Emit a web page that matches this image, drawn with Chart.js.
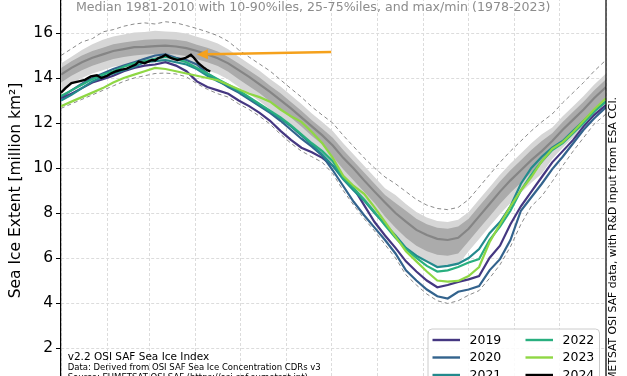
<!DOCTYPE html>
<html>
<head>
<meta charset="utf-8">
<script src="https://cdn.jsdelivr.net/npm/chart.js@4.4.1/dist/chart.umd.min.js"></script>
<style>
	html, body { margin: 0; padding: 0; background: #fff; overflow: hidden; }
	#wrap { position: relative; width: 627px; height: 376px; overflow: hidden; }
	#chart { position: absolute; left: 0; top: -32px; }
</style>
</head>
<body>
<div id="wrap"><canvas id="chart" width="627" height="440"></canvas></div>
<script>
const FONT = "'DejaVu Sans', sans-serif";

// day of year of every sample (weekly)
const days = [0,7,14,21,28,35,42,49,56,63,70,77,84,91,98,105,112,119,126,133,140,147,154,161,168,175,182,189,196,203,210,217,224,231,238,245,252,259,266,273,280,287,294,301,308,315,322,329,336,343,350,357,365];

// climatology 1981-2010 (million km2)
const median = [14.15,14.45,14.7,14.9,15.05,15.2,15.28,15.37,15.38,15.42, 15.44,15.4,15.33,15.2,15.05,14.88,14.65,14.35,14.05,13.72, 13.38,13.02,12.65,12.25,11.85,11.45,11.0,10.45,9.98,9.45, 8.95,8.47,8.0,7.62,7.25,7.02,6.85,6.8,6.9,7.3, 7.85,8.4,8.95,9.45,9.9,10.35,10.75,11.2,11.7,12.15, 12.6,13.1,13.6];
const p75 = [14.45,14.75,15.0,15.2,15.35,15.5,15.58,15.65,15.7,15.72, 15.72,15.7,15.63,15.48,15.35,15.18,14.93,14.65,14.33,14.02, 13.66,13.32,12.93,12.55,12.12,11.75,11.35,10.8,10.3,9.8, 9.3,8.8,8.45,8.1,7.75,7.5,7.35,7.3,7.4,7.75, 8.3,8.85,9.4,9.9,10.35,10.8,11.2,11.55,12.05,12.5, 12.95,13.45,13.95];
const p25 = [13.8,14.1,14.35,14.55,14.7,14.85,14.93,15.0,15.05,15.07, 15.07,15.05,14.98,14.83,14.7,14.53,14.28,13.95,13.63,13.32, 12.96,12.62,12.23,11.85,11.42,11.05,10.5,9.95,9.45,8.95, 8.45,7.85,7.35,6.9,6.55,6.3,6.15,6.1,6.2,6.75, 7.3,7.85,8.4,8.9,9.35,9.8,10.2,10.75,11.25,11.7, 12.15,12.65,13.15];
const p90 = [14.65,14.95,15.25,15.5,15.7,15.85,15.93,16.02,16.05,16.1, 16.07,16.05,15.98,15.83,15.7,15.53,15.28,14.95,14.63,14.32, 13.96,13.62,13.23,12.85,12.42,12.05,11.65,11.1,10.6,10.1, 9.6,9.1,8.8,8.4,8.05,7.8,7.65,7.6,7.7,8.05, 8.6,9.15,9.7,10.2,10.65,11.1,11.5,11.8,12.3,12.75, 13.2,13.7,14.2];
const p10 = [13.45,13.75,14.0,14.2,14.35,14.5,14.58,14.65,14.7,14.72, 14.72,14.7,14.63,14.48,14.35,14.18,13.93,13.6,13.28,12.97, 12.61,12.27,11.88,11.5,11.07,10.7,10.1,9.55,9.05,8.55, 8.05,7.4,6.9,6.4,6.05,5.8,5.65,5.6,5.7,6.3, 6.85,7.4,7.95,8.45,8.9,9.35,9.75,10.4,10.9,11.35, 11.8,12.3,12.8];
// record max / min 1978-2023
const recMax = [15.0,15.3,15.6,15.75,16.05,16.15,16.3,16.4,16.45,16.4, 16.5,16.45,16.33,16.2,16.05,15.88,15.63,15.25,14.93,14.62, 14.31,13.92,13.53,13.15,12.72,12.35,12.0,11.45,10.95,10.45, 10.0,9.6,9.3,8.95,8.6,8.35,8.2,8.15,8.25,8.6, 9.15,9.7,10.25,10.75,11.2,11.65,12.05,12.4,12.9,13.35, 13.8,14.3,14.8];
const recMin = [12.65,12.85,13.05,13.25,13.45,13.65,13.85,14.0,14.1,14.2, 14.22,14.18,14.05,13.75,13.5,13.3,13.15,12.85,12.6,12.3, 11.95,11.5,11.1,10.75,10.5,10.25,9.75,9.0,8.35,7.75, 7.2,6.6,6.0,5.25,4.8,4.4,4.1,3.98,4.1,4.35, 4.55,5.1,5.7,6.5,7.5,8.3,8.75,9.4,10.1,10.75, 11.35,11.95,12.4];

// recent years
const years = ["2019", "2020", "2021", "2022", "2023", "2024"];
const yearColors = ["#453781", "#33638d", "#238a8d", "#29af7f", "#8fd744", "#000000"];
const ext2019 = [13.1,13.3,13.55,13.8,13.95,14.1,14.3,14.45,14.55,14.6, 14.7,14.55,14.3,13.85,13.6,13.45,13.3,13.0,12.75,12.45, 12.1,11.65,11.25,10.9,10.7,10.45,10.1,9.6,9.1,8.35, 7.6,7.0,6.45,5.85,5.4,5.0,4.7,4.8,4.94,5.05, 5.2,6.0,6.55,7.5,8.3,8.95,9.6,10.25,10.75,11.25, 11.85,12.35,12.8];
const ext2020 = [13.15,13.45,13.75,14.0,14.2,14.4,14.55,14.7,14.85,15.0, 15.05,14.9,14.8,14.6,14.2,13.9,13.6,13.35,13.05,12.75, 12.45,12.1,11.7,11.3,10.95,10.55,9.9,9.2,8.5,7.9, 7.35,6.8,6.2,5.45,5.0,4.6,4.3,4.2,4.5,4.6, 4.75,5.45,5.95,6.8,8.1,8.7,9.3,9.95,10.5,11.1, 11.7,12.2,12.7];
const ext2021 = [13.0,13.25,13.55,13.85,14.05,14.2,14.35,14.5,14.7,14.75, 14.8,14.7,14.6,14.4,14.1,13.85,13.65,13.4,13.1,12.8, 12.5,12.2,11.85,11.45,11.05,10.6,10.1,9.5,9.0,8.55, 8.0,7.5,7.0,6.45,6.1,5.85,5.6,5.65,5.75,6.0, 6.4,7.1,7.6,8.3,9.3,10.0,10.5,10.9,11.2,11.65, 12.1,12.55,12.95];
const ext2022 = [13.2,13.45,13.7,13.95,14.15,14.3,14.5,14.65,14.75,14.85, 14.95,14.85,14.7,14.45,14.2,13.95,13.7,13.45,13.15,12.85, 12.55,12.25,11.9,11.5,11.1,10.75,10.3,9.55,9.1,8.6, 8.05,7.45,6.9,6.4,6.0,5.65,5.4,5.45,5.6,5.8, 5.95,6.8,7.4,8.1,9.0,9.7,10.3,10.8,11.1,11.55, 12.0,12.5,12.95];
const ext2023 = [12.75,12.95,13.15,13.35,13.55,13.8,14.0,14.15,14.3,14.45, 14.4,14.3,14.2,14.1,14.0,13.9,13.7,13.5,13.3,13.15, 12.95,12.6,12.3,12.05,11.6,11.1,10.45,9.65,9.2,8.85, 8.25,7.6,6.95,6.3,5.85,5.4,5.0,4.95,4.98,5.2, 5.6,6.7,7.5,8.3,9.0,9.6,10.3,10.85,11.15,11.6, 12.1,12.6,13.1];
const days2024 = [0,3,7,12,16,20,24,27,31,34,37,40,44,47,50,52,56,58,61,63,65,68,70,72,74,76,78,81,83,85,87,89,92,94,96,98,100];
const ext2024 = [13.35,13.55,13.77,13.85,13.92,14.07,14.12,14.0,14.1,14.22,14.3,14.36,14.42,14.51,14.6,14.73,14.66,14.72,14.8,14.78,14.88,14.95,15.03,14.95,14.88,14.84,14.8,14.85,14.88,14.95,15.03,14.9,14.66,14.55,14.44,14.35,14.29];

// first day of each month, for the vertical grid
const monthStarts = [0,31,59,90,120,151,181,212,243,273,304,334,365];

// arrow pointing at the latest 2024 value: [day, extent]
const arrowFrom = [181, 15.16];
const arrowTo = [91, 15.05];

const subtitle = "Median 1981-2010 with 10-90%iles, 25-75%iles, and max/min (1978-2023)";
const credits = [
	"v2.2 OSI SAF Sea Ice Index",
	"Data: Derived from OSI SAF Sea Ice Concentration CDRs v3",
	"Source: EUMETSAT OSI SAF (https://osi-saf.eumetsat.int)"
];
const sideNote = "Source: EUMETSAT OSI SAF data, with R&D input from ESA CCI.";

function toPoints(xs, ys) {
	return ys.map(function(y, i) {
		return {x: xs[i], y: y};
	});
}

function line(label, xs, ys, color, width, order) {
	return {
		label: label,
		data: toPoints(xs, ys),
		borderColor: color,
		borderWidth: width,
		fill: false,
		order: order
	};
}

const yearSeries = [ext2019, ext2020, ext2021, ext2022, ext2023];
const datasets = [];
datasets.push(line("2024", days2024, ext2024, yearColors[5], 2.4, 0));
for(let i = 4; i >= 0; i--) {
	datasets.push(line(years[i], days, yearSeries[i], yearColors[i], 2.2, 5 - i));
}
datasets.push(line("median", days, median, "#858585", 2.2, 6));
const maxLine = line("max", days, recMax, "#8a8a8a", 1, 7);
maxLine.borderDash = [4, 3];
datasets.push(maxLine);
const minLine = line("min", days, recMin, "#8a8a8a", 1, 8);
minLine.borderDash = [4, 3];
datasets.push(minLine);
// 25-75 band
datasets.push({label: "p75", data: toPoints(days, p75), borderWidth: 0, borderColor: "rgba(0,0,0,0)", backgroundColor: "#ababab", fill: "+1", order: 9});
datasets.push({label: "p25", data: toPoints(days, p25), borderWidth: 0, borderColor: "rgba(0,0,0,0)", fill: false, order: 10});
// 10-90 band
datasets.push({label: "p90", data: toPoints(days, p90), borderWidth: 0, borderColor: "rgba(0,0,0,0)", backgroundColor: "#d6d6d6", fill: "+1", order: 11});
datasets.push({label: "p10", data: toPoints(days, p10), borderWidth: 0, borderColor: "rgba(0,0,0,0)", fill: false, order: 12});

function roundRect(ctx, x, y, w, h, r) {
	ctx.beginPath();
	ctx.moveTo(x + r, y);
	ctx.lineTo(x + w - r, y);
	ctx.arcTo(x + w, y, x + w, y + r, r);
	ctx.lineTo(x + w, y + h - r);
	ctx.arcTo(x + w, y + h, x + w - r, y + h, r);
	ctx.lineTo(x + r, y + h);
	ctx.arcTo(x, y + h, x, y + h - r, r);
	ctx.lineTo(x, y + r);
	ctx.arcTo(x, y, x + r, y, r);
	ctx.closePath();
}

const decorations = {
	id: "decorations",
	afterDatasetsDraw(chart) {
		const ctx = chart.ctx;
		const area = chart.chartArea;
		const xs = chart.scales.x;
		const ys = chart.scales.y;
		ctx.save();
		// right and top spines
		ctx.strokeStyle = "#000";
		ctx.lineWidth = 1.2;
		ctx.beginPath();
		ctx.moveTo(area.left, area.top);
		ctx.lineTo(area.right, area.top);
		ctx.lineTo(area.right, area.bottom);
		ctx.stroke();

		// orange arrow
		const x0 = xs.getPixelForValue(arrowFrom[0]), y0 = ys.getPixelForValue(arrowFrom[1]);
		const x1 = xs.getPixelForValue(arrowTo[0]), y1 = ys.getPixelForValue(arrowTo[1]);
		const ang = Math.atan2(y1 - y0, x1 - x0);
		const headLen = 11, headW = 5;
		const bx = x1 - headLen * Math.cos(ang), by = y1 - headLen * Math.sin(ang);
		ctx.strokeStyle = "#f5a11c";
		ctx.fillStyle = "#f5a11c";
		ctx.lineWidth = 2.5;
		ctx.beginPath();
		ctx.moveTo(x0, y0);
		ctx.lineTo(bx, by);
		ctx.stroke();
		ctx.beginPath();
		ctx.moveTo(x1, y1);
		ctx.lineTo(bx + headW * Math.sin(ang), by - headW * Math.cos(ang));
		ctx.lineTo(bx - headW * Math.sin(ang), by + headW * Math.cos(ang));
		ctx.closePath();
		ctx.fill();
		ctx.restore();
	},
	afterDraw(chart) {
		const ctx = chart.ctx;
		const area = chart.chartArea;
		ctx.save();

		// subtitle inside the plot
		ctx.fillStyle = "#8c8c8c";
		ctx.font = "12.6px " + FONT;
		ctx.textAlign = "left";
		ctx.textBaseline = "alphabetic";
		ctx.fillText(subtitle, 76, area.top + 23);

		// credits bottom left
		ctx.fillStyle = "#000";
		ctx.font = "10.5px " + FONT;
		ctx.fillText(credits[0], area.left + 6.7, area.bottom - 33);
		ctx.font = "8.5px " + FONT;
		ctx.fillText(credits[1], area.left + 6.7, area.bottom - 23.5);
		ctx.fillText(credits[2], area.left + 6.7, area.bottom - 13.5);

		// side note, rotated, right of the plot
		ctx.save();
		ctx.translate(area.right + 9.5, area.top + 109);
		ctx.rotate(-Math.PI / 2);
		ctx.font = "10.8px " + FONT;
		ctx.textAlign = "right";
		ctx.fillText(sideNote, 0, 0);
		ctx.restore();

		// legend, two columns
		const boxX = area.right - 178, boxY = area.bottom - 64;
		roundRect(ctx, boxX, boxY, 171.5, 64, 4);
		ctx.fillStyle = "rgba(255,255,255,0.85)";
		ctx.fill();
		ctx.strokeStyle = "#cccccc";
		ctx.lineWidth = 1;
		ctx.stroke();
		ctx.font = "12.5px " + FONT;
		ctx.textBaseline = "middle";
		ctx.textAlign = "left";
		for(let i = 0; i < years.length; i++) {
			const col = Math.floor(i / 3);
			const row = i % 3;
			const lx = boxX + 4.5 + col * 93;
			const ly = boxY + 11 + row * 17.5;
			ctx.strokeStyle = yearColors[i];
			ctx.lineWidth = 2.4;
			ctx.beginPath();
			ctx.moveTo(lx, ly);
			ctx.lineTo(lx + 27.5, ly);
			ctx.stroke();
			ctx.fillStyle = "#000";
			ctx.fillText(years[i], lx + 37, ly + 0.5);
		}
		ctx.restore();
	}
};

new Chart(document.getElementById("chart").getContext("2d"), {
	type: "line",
	data: {datasets: datasets},
	plugins: [decorations],
	options: {
		responsive: false,
		animation: false,
		devicePixelRatio: 1,
		layout: {padding: {top: 20, right: 21, bottom: 15, left: 0}},
		elements: {point: {radius: 0}, line: {tension: 0}},
		plugins: {
			legend: {display: false},
			tooltip: {enabled: false},
			filler: {propagate: false}
		},
		scales: {
			x: {
				type: "linear",
				min: 0,
				max: 365,
				afterBuildTicks: function(scale) {
					scale.ticks = monthStarts.map(function(v) { return {value: v}; });
				},
				afterFit: function(scale) { scale.height = 0; },
				ticks: {display: false},
				grid: {color: "#dcdcdc", lineWidth: 1, drawTicks: false},
				border: {display: false, dash: [3, 2]}
			},
			y: {
				min: 0,
				max: 18,
				afterFit: function(scale) { scale.width = 61; },
				ticks: {
					stepSize: 2,
					padding: 3,
					color: "#000",
					font: {family: FONT, size: 15.5}
				},
				grid: {color: "#dcdcdc", lineWidth: 1, tickColor: "#000", tickLength: 5, tickWidth: 1},
				border: {display: true, color: "#000", width: 1.2, dash: [3, 2]},
				title: {
					display: true,
					text: "Sea Ice Extent [million km²]",
					color: "#000",
					font: {family: FONT, size: 15.5},
					padding: {top: 7, bottom: 0}
				}
			}
		}
	}
});
</script>
</body>
</html>
